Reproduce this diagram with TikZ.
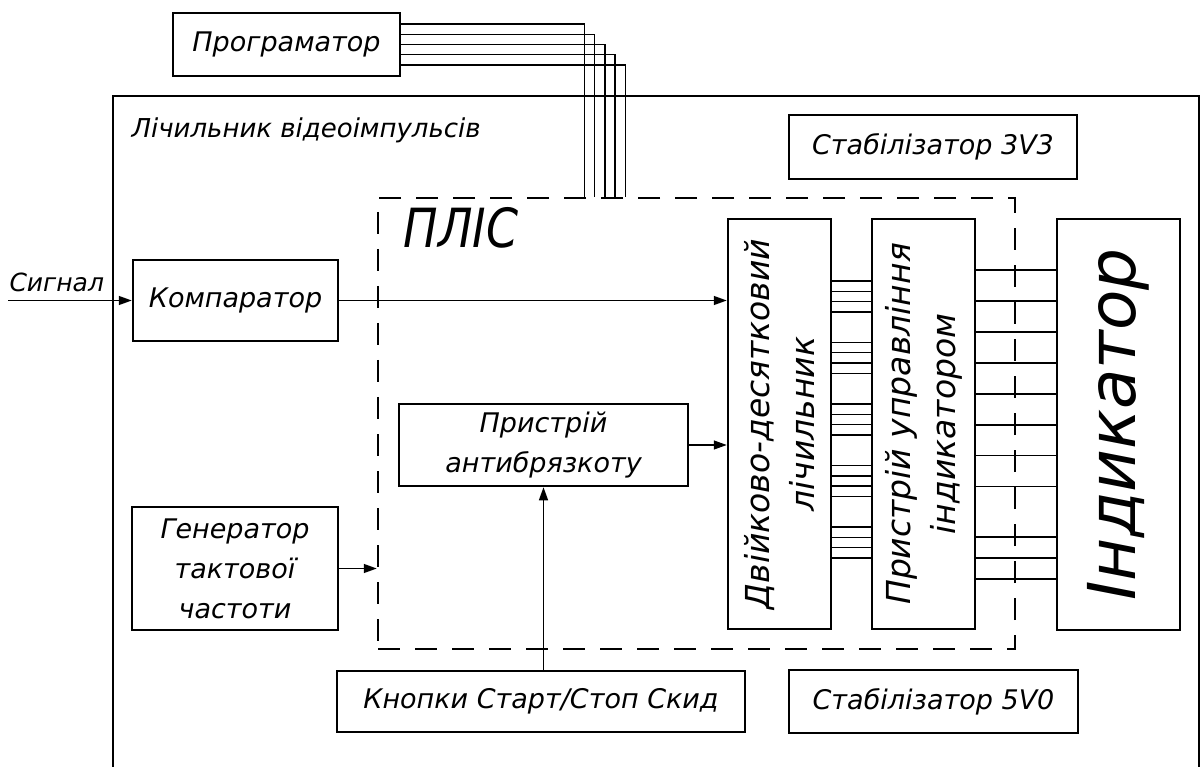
\documentclass[tikz,border=0pt]{standalone}
\usepackage{fontspec}
\setmainfont{DejaVu Sans}
\usepackage{graphicx}
\usetikzlibrary{arrows.meta}
\begin{document}
\begin{tikzpicture}[x=1pt,y=-1pt,
  box/.style={draw,line width=2.5pt,inner sep=0pt,align=center},
  conn/.style={line width=1.4pt},
  arr/.style={conn,-{Triangle[length=13pt,width=9pt]}},
  lbl/.style={font=\fontsize{27}{40}\selectfont\itshape},
  rlbl/.style={font=\fontsize{33}{45}\selectfont\itshape,align=center,rotate=90},
]
\useasboundingbox (0,0) rectangle (1200,767);
% outer frame
\draw[line width=2pt] (113,790) -- (113,96) -- (1199,96) -- (1199,790);
\node[font=\fontsize{26}{30}\selectfont\itshape,anchor=west] (title) at (128,130) {Лічильник відеоімпульсів};
% boxes
\node[box,lbl,minimum width=227pt,minimum height=63pt] (prog) at (286.5,44.5) {Програматор};
\node[box,lbl,minimum width=288pt,minimum height=64pt] (stab3) at (933,147) {Стабілізатор 3V3};
\node[box,lbl,minimum width=289pt,minimum height=63pt] (stab5) at (933.5,701.5) {Стабілізатор 5V0};
\node[box,lbl,minimum width=205pt,minimum height=81pt] (comp) at (235.5,300.5) {Компаратор};
\node[box,lbl,minimum width=206pt,minimum height=123pt] (gen) at (235,568.5) {Генератор\\тактової\\частоти};
\node[box,lbl,minimum width=289pt,minimum height=82pt] (anti) at (543.5,445) {Пристрій\\антибрязкоту};
\node[box,lbl,minimum width=408pt,minimum height=61pt] (btn) at (541,701.5) {Кнопки Старт/Стоп Скид};
\node[draw,line width=2.5pt,dash pattern=on 22pt off 15pt,inner sep=0pt,minimum width=637pt,minimum height=451pt] (plis) at (696.5,423.5) {};
\node[anchor=base west,font=\fontsize{54}{60}\selectfont\itshape] (plislbl) at (400,248) {\scalebox{0.85}[1]{ПЛІС}};
\node[box,minimum width=103pt,minimum height=410pt] (cnt) at (779.5,424) {};
\node[rlbl] (cnttxt) at (cnt.center) {Двійково-десятковий\\лічильник};
\node[box,minimum width=103pt,minimum height=410pt] (ctl) at (923.5,424) {};
\node[rlbl] (ctltxt) at (ctl.center) {Пристрій управління\\індикатором};
\node[box,minimum width=123pt,minimum height=411pt] (ind) at (1118.5,424.5) {};
\node[rotate=90,font=\fontsize{66}{70}\selectfont\itshape] (indtxt) at (ind.center) {Індикатор};
% signal input
\coordinate (sig) at (8,300.5);
\node[anchor=base west,font=\fontsize{25}{30}\selectfont\itshape] (siglbl) at (6,292) {Сигнал};
\draw[arr] (sig) -- (comp.west);
% arrows
\draw[arr] (comp.east) -- (comp.east -| cnt.west);
\draw[arr] (anti.east) -- (anti.east -| cnt.west);
\draw[arr] (gen.east) -- (gen.east -| plis.west);
\draw[arr] (anti.south |- btn.north) -- (anti.south);
% programmer bus
\foreach \i in {0,...,4} {
  \pgfmathsetmacro\yy{24+10.25*\i}
  \pgfmathsetmacro\xx{584.3+10.25*\i}
  \draw[conn] (prog.east |- 0,\yy) -| (\xx,0 |- plis.north);
}
% counter -> controller bus
\foreach \g in {0,...,4} {
  \foreach \i in {0,...,3} {
    \pgfmathsetmacro\yy{281+61.5*\g+10.3*\i}
    \draw[conn] (cnt.east |- 0,\yy) -- (ctl.west |- 0,\yy);
  }
}
% controller -> indicator bus
\foreach \yy in {270,301,332,363,394,425,455.5,486.5,537,558,579} {
  \draw[conn] (ctl.east |- 0,\yy) -- (ind.west |- 0,\yy);
}
\end{tikzpicture}
\end{document}
